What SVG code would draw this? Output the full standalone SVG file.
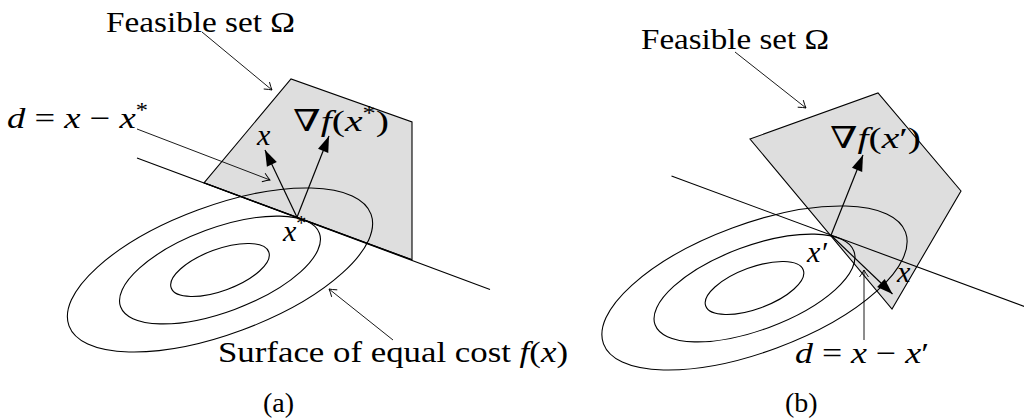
<svg xmlns="http://www.w3.org/2000/svg" width="1024" height="420" viewBox="0 0 1024 420">
<style>
.set{fill:#dedede;stroke:#000;stroke-width:1.1;stroke-linejoin:miter}
.ell{fill:none;stroke:#000;stroke-width:1.1}
.ln{fill:none;stroke:#000;stroke-width:1.1}
.vec{fill:none;stroke:#000;stroke-width:1.2}
.ptr{fill:none;stroke:#000;stroke-width:0.9}
text{font-family:'Liberation Serif','DejaVu Serif',serif;font-size:30px;fill:#000}
.m{font-style:italic}
.cap{font-size:28px}
.sup{font-size:20px}
</style>
<defs>
<marker id="head" markerUnits="userSpaceOnUse" markerWidth="20" markerHeight="16" refX="0" refY="0" viewBox="-17 -8 20 16" orient="auto" overflow="visible">
<path d="M0,0 L-16,-5.5 L-16,5.5 Z" fill="#000"/>
</marker>
<marker id="open" markerUnits="userSpaceOnUse" markerWidth="12" markerHeight="12" refX="0" refY="0" viewBox="-8 -6 10 12" orient="auto" overflow="visible">
<path d="M-7,-4.5 Q-2.5,-1.2 0,0 Q-2.5,1.2 -7,4.5" fill="none" stroke="#000" stroke-width="0.9"/>
</marker>
</defs>

<g id="panel-a">
<g id="feasible-set-a">
<polygon class="set" points="204,182.8 291,79 412,122 412,259.8"/>
</g>
<g id="cost-contours-a">
<ellipse class="ell" cx="220" cy="270" rx="161" ry="64" transform="rotate(-20.3 220 270)"/>
<ellipse class="ell" cx="220" cy="270" rx="106" ry="42" transform="rotate(-20.3 220 270)"/>
<ellipse class="ell" cx="220" cy="270" rx="52" ry="20.7" transform="rotate(-20.3 220 270)"/>
</g>
<g id="tangent-a">
<line class="ln" x1="137" y1="158" x2="490" y2="289.5"/>
<line class="ln" x1="204" y1="182.8" x2="412" y2="259.8" stroke-width="1.6"/>
</g>
<g id="connectors-a">
<line class="vec" x1="297" y1="217.3" x2="265" y2="150" marker-end="url(#head)"/>
<line class="vec" x1="297" y1="217.3" x2="329" y2="136" marker-end="url(#head)"/>
<line class="ptr" x1="137" y1="129" x2="270" y2="180" marker-end="url(#open)"/>
<line class="ptr" x1="202" y1="32" x2="272" y2="90" marker-end="url(#open)"/>
<line class="ptr" x1="393" y1="340" x2="329" y2="289" marker-end="url(#open)"/>
</g>
<g id="labels-a" font-family="Liberation Serif, DejaVu Serif, serif">
<text x="106" y="32" textLength="189" lengthAdjust="spacingAndGlyphs">Feasible set Ω</text>
<text x="7" y="128" textLength="141" lengthAdjust="spacingAndGlyphs"><tspan class="m">d</tspan> = <tspan class="m">x</tspan> − <tspan class="m">x</tspan><tspan class="sup" dy="-11">*</tspan></text>
<text x="257" y="145" class="m">x</text>
<text x="293" y="131" textLength="96" lengthAdjust="spacingAndGlyphs">∇<tspan class="m">f</tspan>(<tspan class="m">x</tspan><tspan class="sup" dy="-11">*</tspan><tspan dy="11">)</tspan></text>
<text x="283" y="241"><tspan class="m">x</tspan><tspan class="sup" dy="-11">*</tspan></text>
<text x="218" y="362" textLength="350" lengthAdjust="spacingAndGlyphs">Surface of equal cost <tspan class="m">f</tspan>(<tspan class="m">x</tspan>)</text>
<text x="263" y="412" class="cap">(a)</text>
</g>
</g>

<g id="panel-b">
<g id="feasible-set-b">
<polygon class="set" points="750,139 878,93 961,191 892,309"/>
</g>
<g id="cost-contours-b">
<ellipse class="ell" cx="754.5" cy="288" rx="161" ry="64" transform="rotate(-20.3 754.5 288)"/>
<ellipse class="ell" cx="754.5" cy="288" rx="106" ry="42" transform="rotate(-20.3 754.5 288)"/>
<ellipse class="ell" cx="754.5" cy="288" rx="52" ry="20.7" transform="rotate(-20.3 754.5 288)"/>
</g>
<g id="tangent-b">
<line class="ln" x1="671.5" y1="176" x2="1030" y2="308.6"/>
</g>
<g id="connectors-b">
<line class="vec" x1="831" y1="235.3" x2="863" y2="155" marker-end="url(#head)"/>
<line class="vec" x1="831" y1="235.3" x2="892.5" y2="294" marker-end="url(#head)"/>
<line class="ptr" x1="735" y1="52" x2="806" y2="108" marker-end="url(#open)"/>
<line class="ptr" x1="864" y1="340" x2="864" y2="270" marker-end="url(#open)"/>
</g>
<g id="labels-b" font-family="Liberation Serif, DejaVu Serif, serif">
<text x="641" y="49" textLength="188" lengthAdjust="spacingAndGlyphs">Feasible set Ω</text>
<text x="830" y="148" textLength="91" lengthAdjust="spacingAndGlyphs">∇<tspan class="m">f</tspan>(<tspan class="m">x</tspan>′)</text>
<text x="807" y="262" class="m">x′</text>
<text x="897" y="282" class="m">x</text>
<text x="795" y="363" textLength="134" lengthAdjust="spacingAndGlyphs"><tspan class="m">d</tspan> = <tspan class="m">x</tspan> − <tspan class="m">x</tspan>′</text>
<text x="785" y="412" class="cap">(b)</text>
</g>
</g>
</svg>
